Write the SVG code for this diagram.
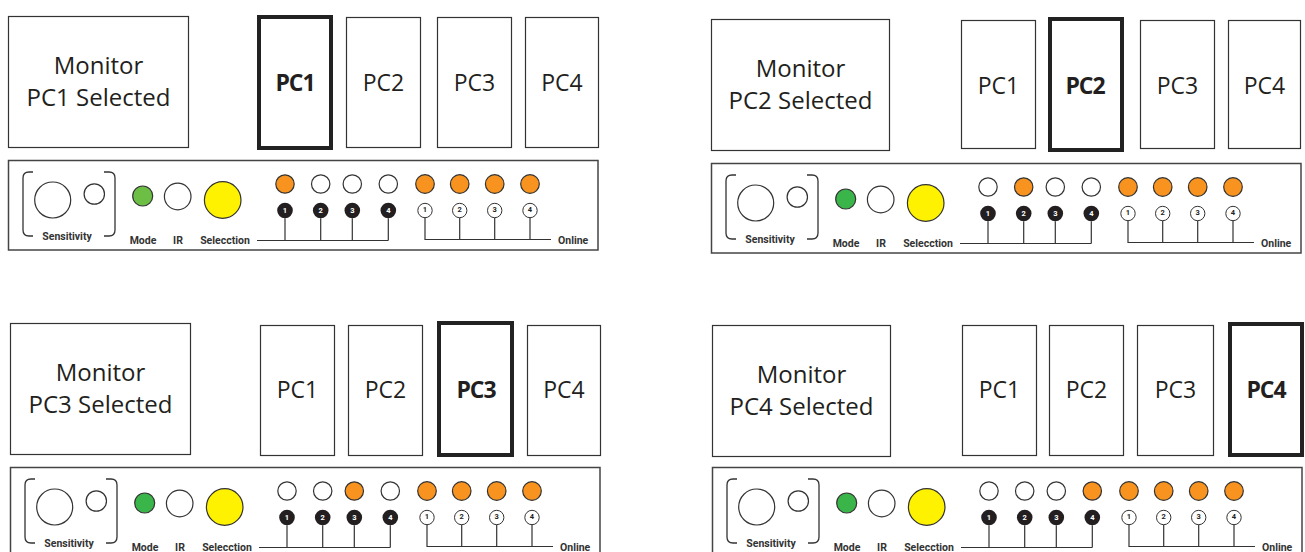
<svg xmlns="http://www.w3.org/2000/svg" width="1305" height="552" viewBox="0 0 1305 552">
<style>
.bg{fill:#fff}
.box{fill:#fff;stroke:#333;stroke-width:1.2}
.sel{fill:#fff;stroke:#222;stroke-width:4}
.bar{fill:#fff;stroke:#444;stroke-width:1.5}
.mon{font-family:"Open Sans","Noto Sans",sans-serif;font-size:24px;fill:#231f20;text-anchor:middle}
.pc{font-family:"Open Sans","Noto Sans",sans-serif;font-size:23px;fill:#231f20;text-anchor:middle}
.pcb{font-family:"Open Sans","Noto Sans",sans-serif;font-size:23px;font-weight:700;fill:#231f20;text-anchor:middle;letter-spacing:-1px}
.lbl{font-family:Roboto,"Liberation Sans",sans-serif;font-size:10.5px;font-weight:700;fill:#333}
.ring{fill:#fff;stroke:#333;stroke-width:1.2}
.led{stroke:#333;stroke-width:1.2}
.off{fill:#fff}
.on{fill:#F7931E}
.yel{fill:#FFF200;stroke:#333;stroke-width:1.2}
.badge{fill:#231f20}
.bnum{font-family:Roboto,"Liberation Sans",sans-serif;font-size:7.5px;font-weight:700;fill:#fff;text-anchor:middle}
.onum{fill:#fff;stroke:#333;stroke-width:1}
.onumt{font-family:Roboto,"Liberation Sans",sans-serif;font-size:7.5px;font-weight:700;fill:#231f20;text-anchor:middle}
.wire{fill:none;stroke:#333;stroke-width:1.2}
.brk{fill:none;stroke:#333;stroke-width:1.3}
</style>
<rect class="bg" x="0" y="0" width="1305" height="552"/>
<defs>
<g id="ctrlbase">
<rect class="bar" x="8.5" y="160.5" width="589.5" height="89.5"/>
<path class="brk" d="M33,172 H29 Q23,172 23,178 V230 Q23,236 29,236 H33"/>
<path class="brk" d="M104,172 H109 Q115,172 115,178 V230 Q115,236 109,236 H104"/>
<circle class="ring" cx="52.7" cy="200" r="18"/>
<circle class="ring" cx="94.3" cy="194" r="10.2"/>
<text class="lbl" x="67" y="240" text-anchor="middle">Sensitivity</text>
<circle class="ring" cx="177.7" cy="196.5" r="13.3"/>
<circle class="yel" cx="222.7" cy="200" r="18.3"/>
<text class="lbl" x="143" y="244" text-anchor="middle">Mode</text>
<text class="lbl" x="178" y="244" text-anchor="middle">IR</text>
<text class="lbl" x="225" y="244" text-anchor="middle">Selecction</text>
<circle class="badge" cx="285" cy="210.5" r="7.8"/>
<circle class="badge" cx="320.7" cy="210.5" r="7.8"/>
<circle class="badge" cx="352.3" cy="210.5" r="7.8"/>
<circle class="badge" cx="388.3" cy="210.5" r="7.8"/>
<text class="bnum" x="285" y="213.2">1</text>
<text class="bnum" x="320.7" y="213.2">2</text>
<text class="bnum" x="352.3" y="213.2">3</text>
<text class="bnum" x="388.3" y="213.2">4</text>
<circle class="led on" cx="425" cy="184" r="9.3"/>
<circle class="led on" cx="459.7" cy="184" r="9.3"/>
<circle class="led on" cx="494.7" cy="184" r="9.3"/>
<circle class="led on" cx="530" cy="184" r="9.3"/>
<circle class="onum" cx="425" cy="210.5" r="7.2"/>
<circle class="onum" cx="459.7" cy="210.5" r="7.2"/>
<circle class="onum" cx="494.7" cy="210.5" r="7.2"/>
<circle class="onum" cx="530" cy="210.5" r="7.2"/>
<text class="onumt" x="425" y="211.5">1</text>
<text class="onumt" x="459.7" y="211.5">2</text>
<text class="onumt" x="494.7" y="211.5">3</text>
<text class="onumt" x="530" y="211.5">4</text>
<text class="lbl" x="558" y="244">Online</text>
</g>
<g id="wiresbase">
<path class="wire" d="M257,240.5 H388.3 M285,218.3 V240.5 M320.7,218.3 V240.5 M352.3,218.3 V240.5 M388.3,218.3 V240.5"/>
<path class="wire" d="M425,217.7 V239.5 H551 M459.7,217.7 V239.5 M494.7,217.7 V239.5 M530,217.7 V239.5"/>
</g>
</defs>

<!-- Panel 1 -->
<g id="panel1">
<g id="p1-monitor"><rect class="box" x="8.5" y="16.5" width="180" height="131"/><text class="mon" x="98.5" y="74">Monitor</text><text class="mon" x="98.5" y="106">PC1 Selected</text></g>
<g id="p1-pc1"><rect class="sel" x="259" y="17" width="72" height="131"/><text class="pcb" x="295" y="91">PC1</text></g>
<g id="p1-pc2"><rect class="box" x="346.5" y="17.5" width="74" height="130"/><text class="pc" x="383.5" y="91">PC2</text></g>
<g id="p1-pc3"><rect class="box" x="437.5" y="17.5" width="74" height="130"/><text class="pc" x="474.5" y="91">PC3</text></g>
<g id="p1-pc4"><rect class="box" x="525.5" y="17.5" width="73" height="130"/><text class="pc" x="562" y="91">PC4</text></g>
<g id="p1-control"><use href="#ctrlbase"/><circle class="led" fill="#6DBE45" cx="142.7" cy="196" r="10"/>
<circle class="led on" cx="285" cy="184" r="9.2"/><circle class="led off" cx="320.7" cy="184" r="9.2"/><circle class="led off" cx="352.3" cy="184" r="9.2"/><circle class="led off" cx="388.3" cy="184" r="9.2"/></g>
</g>

<!-- Panel 2 -->
<g id="panel2" transform="translate(703,3)">
<g id="p2-monitor"><rect class="box" x="8.5" y="16.5" width="178" height="131"/><text class="mon" x="97.5" y="74">Monitor</text><text class="mon" x="97.5" y="106">PC2 Selected</text></g>
<g id="p2-pc1"><rect class="box" x="258.5" y="17.5" width="74" height="128"/><text class="pc" x="295.5" y="91">PC1</text></g>
<g id="p2-pc2"><rect class="sel" x="347" y="16" width="72" height="131"/><text class="pcb" x="382" y="91">PC2</text></g>
<g id="p2-pc3"><rect class="box" x="437.5" y="17.5" width="74" height="128"/><text class="pc" x="474.5" y="91">PC3</text></g>
<g id="p2-pc4"><rect class="box" x="525.5" y="17.5" width="72" height="128"/><text class="pc" x="561.5" y="91">PC4</text></g>
<g id="p2-control"><use href="#ctrlbase"/><circle class="led" fill="#3AB54A" cx="142.7" cy="196" r="10"/>
<circle class="led off" cx="285" cy="184" r="9.2"/><circle class="led on" cx="320.7" cy="184" r="9.2"/><circle class="led off" cx="352.3" cy="184" r="9.2"/><circle class="led off" cx="388.3" cy="184" r="9.2"/></g>
</g>

<!-- Panel 3 -->
<g id="panel3" transform="translate(2,307)">
<g id="p3-monitor"><rect class="box" x="8.5" y="16.5" width="180" height="131"/><text class="mon" x="98.5" y="74">Monitor</text><text class="mon" x="98.5" y="106">PC3 Selected</text></g>
<g id="p3-pc1"><rect class="box" x="258.5" y="18.5" width="74" height="130"/><text class="pc" x="295.5" y="91">PC1</text></g>
<g id="p3-pc2"><rect class="box" x="346.5" y="18.5" width="74" height="130"/><text class="pc" x="383.5" y="91">PC2</text></g>
<g id="p3-pc3"><rect class="sel" x="437" y="16" width="73" height="132"/><text class="pcb" x="474" y="91">PC3</text></g>
<g id="p3-pc4"><rect class="box" x="525.5" y="18.5" width="73" height="130"/><text class="pc" x="562" y="91">PC4</text></g>
<g id="p3-control"><use href="#ctrlbase"/><circle class="led" fill="#3AB54A" cx="142.7" cy="196" r="10"/>
<circle class="led off" cx="285" cy="184" r="9.2"/><circle class="led off" cx="320.7" cy="184" r="9.2"/><circle class="led on" cx="352.3" cy="184" r="9.2"/><circle class="led off" cx="388.3" cy="184" r="9.2"/></g>
</g>

<!-- Panel 4 -->
<g id="panel4" transform="translate(704,307)">
<g id="p4-monitor"><rect class="box" x="8.5" y="18.5" width="178" height="131"/><text class="mon" x="97.5" y="76">Monitor</text><text class="mon" x="97.5" y="108">PC4 Selected</text></g>
<g id="p4-pc1"><rect class="box" x="258.5" y="18.5" width="74" height="130"/><text class="pc" x="295.5" y="91">PC1</text></g>
<g id="p4-pc2"><rect class="box" x="345.5" y="18.5" width="74" height="130"/><text class="pc" x="382.5" y="91">PC2</text></g>
<g id="p4-pc3"><rect class="box" x="433.5" y="18.5" width="76" height="130"/><text class="pc" x="471.5" y="91">PC3</text></g>
<g id="p4-pc4"><rect class="sel" x="526" y="17" width="72" height="131"/><text class="pcb" x="562" y="91">PC4</text></g>
<g id="p4-control"><use href="#ctrlbase"/><circle class="led" fill="#3AB54A" cx="142.7" cy="196" r="10"/>
<circle class="led off" cx="285" cy="184" r="9.2"/><circle class="led off" cx="320.7" cy="184" r="9.2"/><circle class="led off" cx="352.3" cy="184" r="9.2"/><circle class="led on" cx="388.3" cy="184" r="9.2"/></g>
</g>

<g id="connectors">
<use href="#wiresbase"/>
<use href="#wiresbase" transform="translate(703,3)"/>
<use href="#wiresbase" transform="translate(2,307)"/>
<use href="#wiresbase" transform="translate(704,307)"/>
</g>
</svg>
